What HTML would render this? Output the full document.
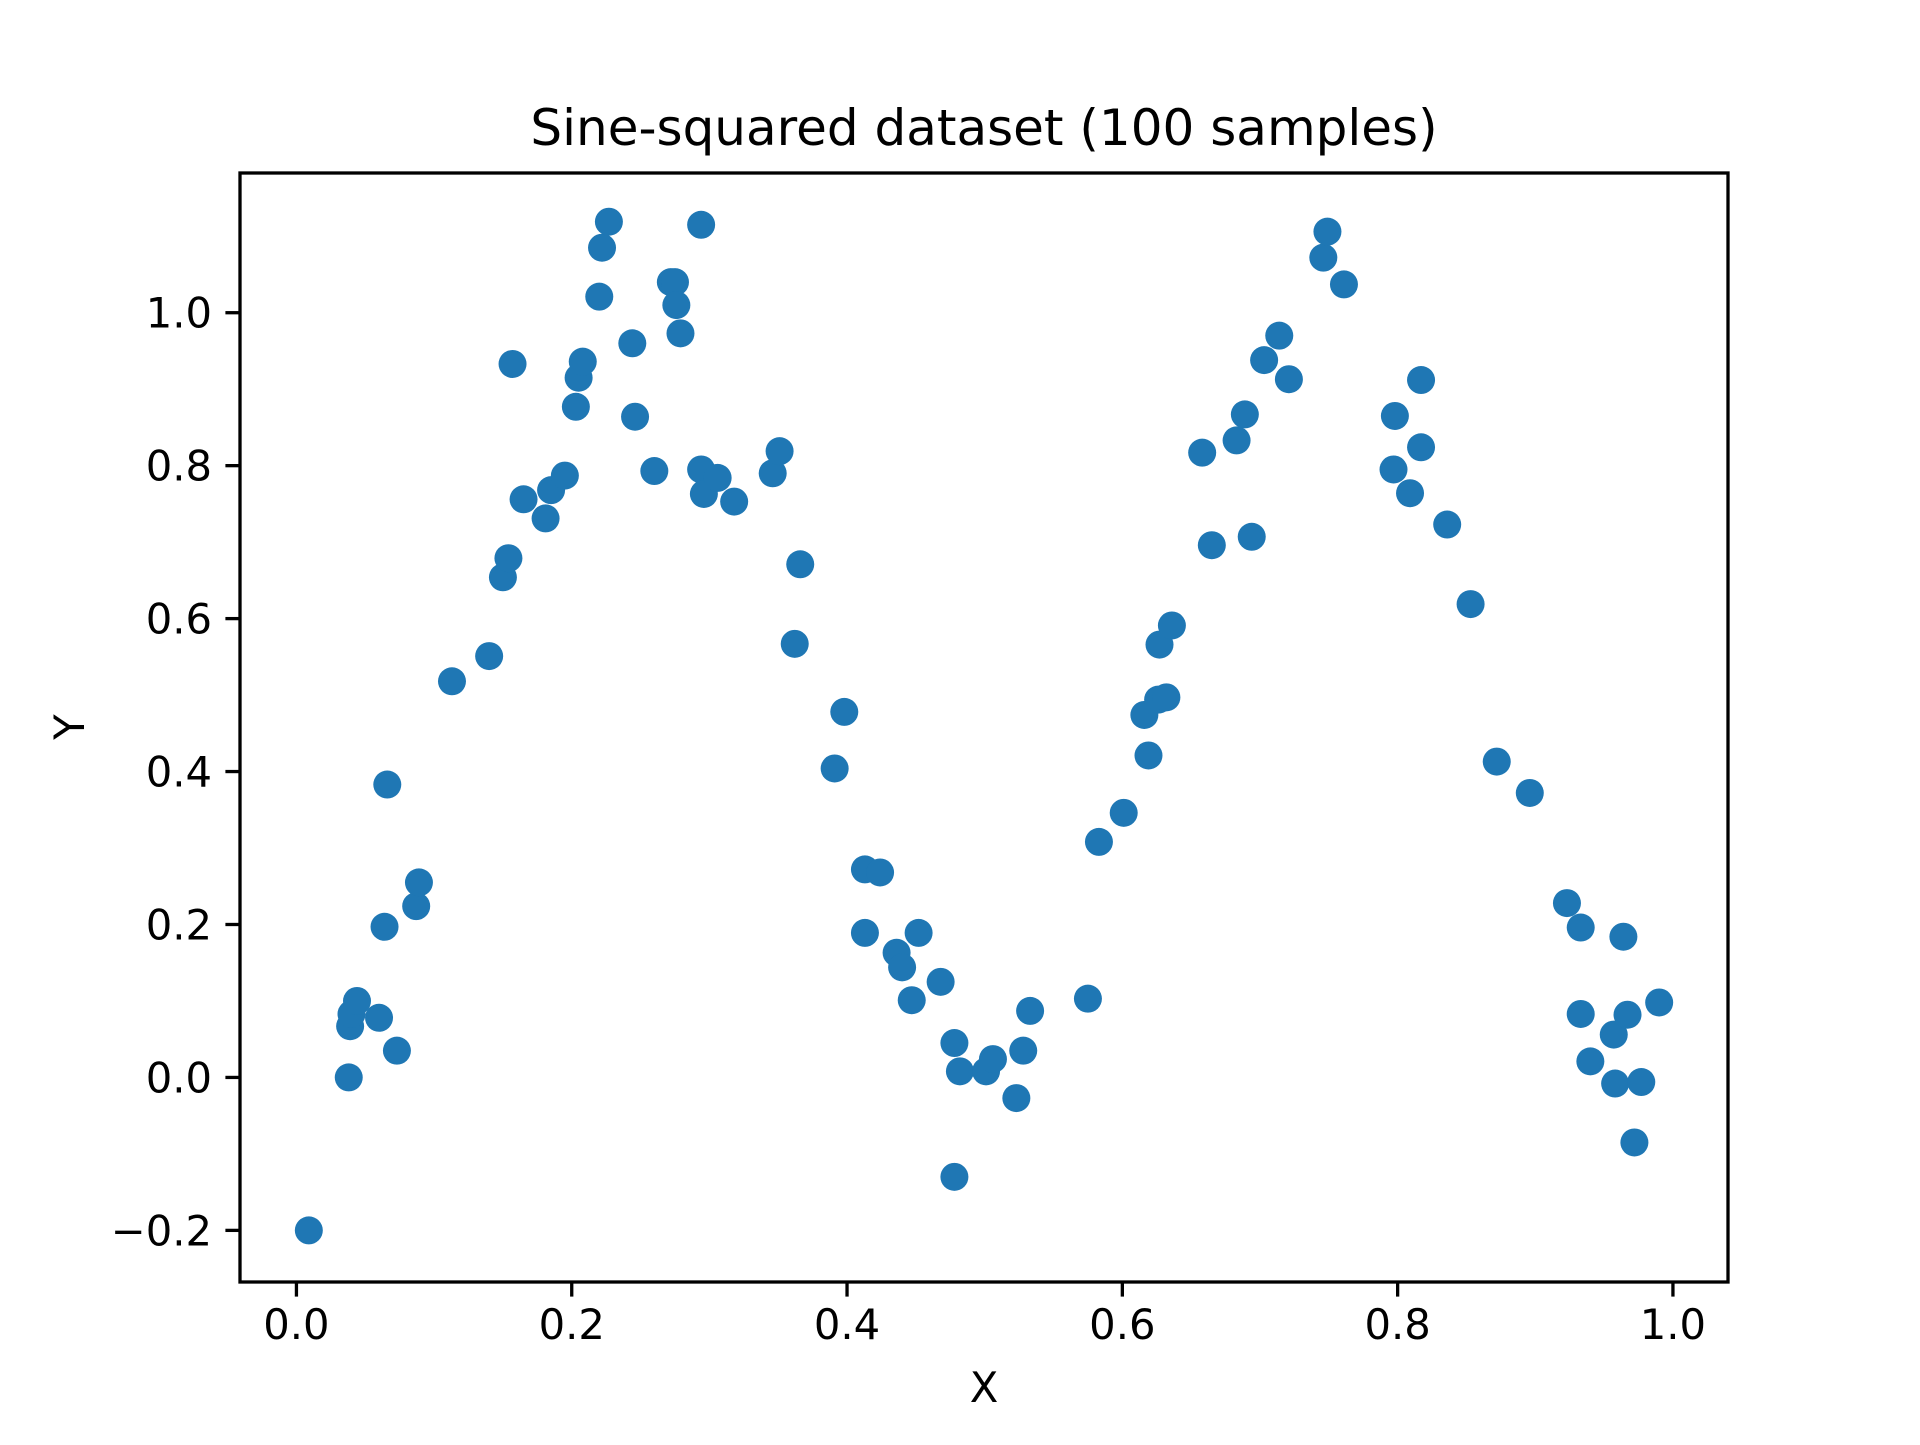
<!DOCTYPE html>
<html><head><meta charset="utf-8"><style>
html,body{margin:0;padding:0;background:#fff;}
svg text{font-family:"DejaVu Sans","Liberation Sans",sans-serif;fill:#000;}
</style></head><body>
<svg id="chart" width="1920" height="1440" xmlns="http://www.w3.org/2000/svg">
<rect width="1920" height="1440" fill="#fff"/>
<text x="984" y="145" font-size="50" text-anchor="middle">Sine-squared dataset (100 samples)</text>
<g id="points"></g>
<g id="axes"></g>
<text x="984" y="1402" font-size="41.7" text-anchor="middle">X</text>
<text transform="translate(84,727) rotate(-90)" font-size="41.7" text-anchor="middle">Y</text>
</svg>
<script>
const xs=[0.009,0.038,0.039,0.040,0.044,0.060,0.073,0.064,0.066,0.087,0.089,0.113,0.140,0.150,0.154,0.157,0.165,0.181,0.185,0.195,0.203,0.205,0.208,0.220,0.222,0.227,0.244,0.246,0.260,0.272,0.275,0.276,0.279,0.294,0.294,0.296,0.306,0.318,0.346,0.351,0.362,0.366,0.391,0.398,0.413,0.413,0.424,0.436,0.440,0.447,0.452,0.468,0.478,0.482,0.478,0.501,0.506,0.523,0.528,0.533,0.575,0.583,0.601,0.616,0.619,0.627,0.626,0.632,0.636,0.658,0.665,0.683,0.689,0.694,0.703,0.714,0.721,0.746,0.749,0.761,0.798,0.797,0.809,0.817,0.817,0.836,0.853,0.872,0.896,0.923,0.933,0.933,0.940,0.957,0.958,0.964,0.967,0.972,0.977,0.990];
const ys=[-0.20,0.00,0.067,0.083,0.10,0.078,0.035,0.197,0.383,0.224,0.255,0.518,0.551,0.654,0.679,0.933,0.756,0.731,0.768,0.787,0.877,0.915,0.936,1.021,1.085,1.119,0.960,0.864,0.793,1.040,1.040,1.010,0.973,1.115,0.795,0.763,0.784,0.753,0.790,0.819,0.567,0.671,0.404,0.478,0.272,0.189,0.268,0.163,0.144,0.101,0.189,0.125,0.045,0.008,-0.130,0.008,0.024,-0.027,0.035,0.087,0.103,0.308,0.346,0.474,0.421,0.566,0.494,0.497,0.591,0.817,0.696,0.833,0.867,0.707,0.938,0.970,0.913,1.072,1.106,1.037,0.865,0.795,0.764,0.912,0.824,0.723,0.619,0.413,0.372,0.228,0.196,0.083,0.021,0.056,-0.008,0.184,0.082,-0.085,-0.006,0.098];
const xTicks=[0,0.2,0.4,0.6,0.8,1.0];
const xTickLabels=["0.0","0.2","0.4","0.6","0.8","1.0"];
const yTicks=[-0.2,0,0.2,0.4,0.6,0.8,1.0];
const yTickLabels=["\u22120.2","0.0","0.2","0.4","0.6","0.8","1.0"];
const L=240,R=1728,T=173,B=1282;
const xMin=-0.041,xMax=1.040,yMin=-0.2675,yMax=1.1827;
function sx(v){return L+(v-xMin)/(xMax-xMin)*(R-L);}
function sy(v){return B-(v-yMin)/(yMax-yMin)*(B-T);}
const NS="http://www.w3.org/2000/svg";
const pg=document.getElementById('points');
for(let i=0;i<xs.length;i++){
  const c=document.createElementNS(NS,'circle');
  c.setAttribute('cx',sx(xs[i]));c.setAttribute('cy',sy(ys[i]));
  c.setAttribute('r',14);c.setAttribute('fill','#1f77b4');
  
  
  pg.appendChild(c);
}
const ag=document.getElementById('axes');
const fr=document.createElementNS(NS,'rect');
fr.setAttribute('x',L);fr.setAttribute('y',T);fr.setAttribute('width',R-L);fr.setAttribute('height',B-T);
fr.setAttribute('fill','none');fr.setAttribute('stroke','#000');fr.setAttribute('stroke-width',3.3);


ag.appendChild(fr);
xTicks.forEach((v,i)=>{
  const x=sx(v);
  const l=document.createElementNS(NS,'line');
  l.setAttribute('x1',x);l.setAttribute('x2',x);l.setAttribute('y1',B);l.setAttribute('y2',B+14.6);
  l.setAttribute('stroke','#000');l.setAttribute('stroke-width',3.3);
  
  
  ag.appendChild(l);
  const t=document.createElementNS(NS,'text');
  t.setAttribute('x',x);t.setAttribute('y',B+57);t.setAttribute('font-size',41.7);t.setAttribute('text-anchor','middle');
  t.textContent=xTickLabels[i];
  
  
  ag.appendChild(t);
});
yTicks.forEach((v,i)=>{
  const y=sy(v);
  const l=document.createElementNS(NS,'line');
  l.setAttribute('x1',L-14.6);l.setAttribute('x2',L);l.setAttribute('y1',y);l.setAttribute('y2',y);
  l.setAttribute('stroke','#000');l.setAttribute('stroke-width',3.3);
  
  
  ag.appendChild(l);
  const t=document.createElementNS(NS,'text');
  t.setAttribute('x',L-28);t.setAttribute('y',y+15);t.setAttribute('font-size',41.7);t.setAttribute('text-anchor','end');
  t.textContent=yTickLabels[i];
  
  
  ag.appendChild(t);
});
</script>
</body></html>
